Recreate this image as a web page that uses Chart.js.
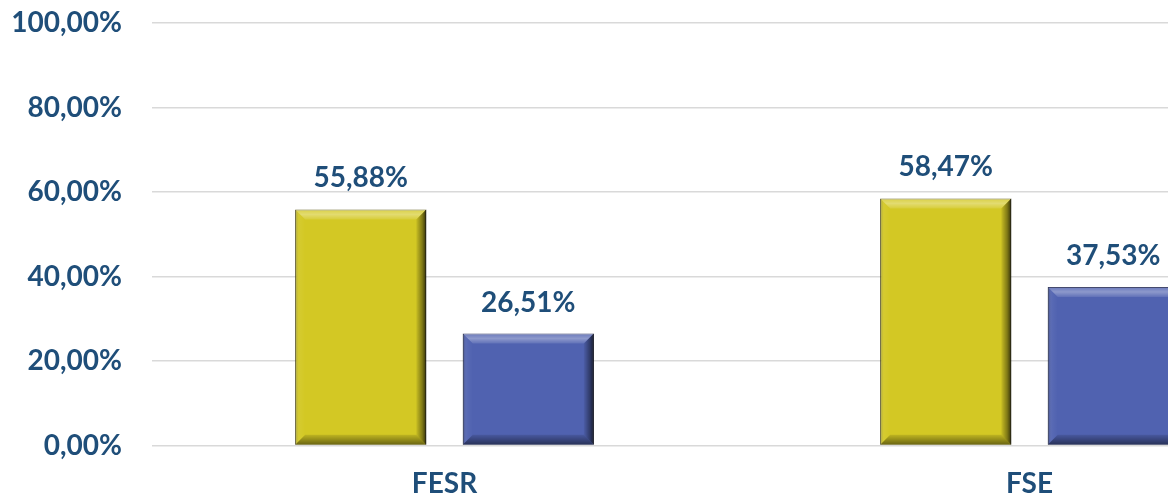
<!DOCTYPE html>
<html>
<head>
<meta charset="utf-8">
<script src="https://cdn.jsdelivr.net/npm/chart.js@4/dist/chart.umd.min.js"></script>
<style>
    html, body { margin: 0; padding: 0; background: #fff; overflow: hidden; }
    #wrap { position: relative; width: 1322px; height: 520px; margin-top: -21px; }
</style>
</head>
<body>
<div id="wrap"><canvas id="myChart"></canvas></div>
<script>
const categories = ['FESR', 'FSE'];
const seriesYellow = [55.88, 58.47];
const seriesBlue = [26.51, 37.53];
const yTicks = [0, 20, 40, 60, 80, 100];

const textColor = '#1f4e79';
const labelFont = { family: 'Lato', size: 28, weight: 'bold', lineHeight: 1 };

function formatPct(v) {
    return v.toFixed(2).replace('.', ',') + '%';
}

// draws the bevel look on each bar, like the office chart
const bevelPlugin = {
    id: 'bevel',
    afterDatasetsDraw(chart) {
        const ctx = chart.ctx;
        chart.data.datasets.forEach((ds, i) => {
            chart.getDatasetMeta(i).data.forEach(bar => {
                const l = bar.x - bar.width / 2;
                const r = bar.x + bar.width / 2;
                const t = bar.y;
                const b = bar.base;
                const s = 10;
                ctx.save();
                // top
                let g = ctx.createLinearGradient(0, t, 0, t + s);
                g.addColorStop(0, 'rgba(255,255,255,0.15)');
                g.addColorStop(0.5, 'rgba(255,255,255,0.35)');
                g.addColorStop(1, 'rgba(255,255,255,0.1)');
                ctx.fillStyle = g;
                ctx.beginPath();
                ctx.moveTo(l, t); ctx.lineTo(r, t); ctx.lineTo(r - s, t + s); ctx.lineTo(l + s, t + s);
                ctx.closePath(); ctx.fill();
                // left
                g = ctx.createLinearGradient(l, 0, l + s, 0);
                g.addColorStop(0, 'rgba(0,0,0,0.25)');
                g.addColorStop(0.4, 'rgba(255,255,255,0.05)');
                g.addColorStop(1, 'rgba(255,255,255,0)');
                ctx.fillStyle = g;
                ctx.beginPath();
                ctx.moveTo(l, t); ctx.lineTo(l + s, t + s); ctx.lineTo(l + s, b - s); ctx.lineTo(l, b);
                ctx.closePath(); ctx.fill();
                // right
                g = ctx.createLinearGradient(r - s, 0, r, 0);
                g.addColorStop(0, 'rgba(0,0,0,0.05)');
                g.addColorStop(0.6, 'rgba(0,0,0,0.4)');
                g.addColorStop(1, 'rgba(0,0,0,0.75)');
                ctx.fillStyle = g;
                ctx.beginPath();
                ctx.moveTo(r, t); ctx.lineTo(r, b); ctx.lineTo(r - s, b - s); ctx.lineTo(r - s, t + s);
                ctx.closePath(); ctx.fill();
                // bottom
                g = ctx.createLinearGradient(0, b - s, 0, b);
                g.addColorStop(0, 'rgba(0,0,0,0.1)');
                g.addColorStop(1, 'rgba(0,0,0,0.5)');
                ctx.fillStyle = g;
                ctx.beginPath();
                ctx.moveTo(l, b); ctx.lineTo(r, b); ctx.lineTo(r - s, b - s); ctx.lineTo(l + s, b - s);
                ctx.closePath(); ctx.fill();
                ctx.restore();
            });
        });
    }
};

// value labels above the bars
const valueLabelPlugin = {
    id: 'valueLabels',
    afterDatasetsDraw(chart) {
        const ctx = chart.ctx;
        ctx.save();
        ctx.font = 'bold 28px Lato';
        ctx.fillStyle = textColor;
        ctx.textAlign = 'center';
        ctx.textBaseline = 'middle';
        chart.data.datasets.forEach((ds, i) => {
            chart.getDatasetMeta(i).data.forEach((bar, j) => {
                ctx.fillText(formatPct(ds.data[j]), bar.x, bar.y - 31);
            });
        });
        ctx.restore();
    }
};

let ctx = document.getElementById('myChart').getContext('2d');
let myChart = new Chart(ctx, {
    type: 'bar',
    data: {
        labels: categories,
        datasets: [{
            label: 'Serie 1',
            data: seriesYellow,
            backgroundColor: '#d3c824',
            borderColor: '#5a5410',
            borderWidth: 1,
            categoryPercentage: 0.573,
            barPercentage: 0.782
        }, {
            label: 'Serie 2',
            data: seriesBlue,
            backgroundColor: '#5062b0',
            borderColor: '#1e2550',
            borderWidth: 1,
            categoryPercentage: 0.573,
            barPercentage: 0.782
        }]
    },
    options: {
        responsive: true,
        maintainAspectRatio: false,
        animation: false,
        layout: {
            padding: { left: 12, top: 0, right: 0, bottom: 0 }
        },
        plugins: {
            legend: { display: false },
            tooltip: { enabled: false }
        },
        scales: {
            x: {
                grid: { display: false },
                border: { display: false },
                afterFit(axis) {
                    axis.height = 53.5;
                },
                ticks: {
                    color: textColor,
                    font: labelFont,
                    padding: 16
                }
            },
            y: {
                min: 0,
                max: 100,
                afterBuildTicks(axis) {
                    axis.ticks = yTicks.map(v => ({ value: v }));
                },
                afterFit(axis) {
                    axis.width = 140;
                },
                grid: {
                    color: '#d9d9d9',
                    lineWidth: 1.5,
                    drawTicks: false
                },
                border: { display: false },
                ticks: {
                    color: textColor,
                    font: labelFont,
                    padding: 30,
                    callback: value => formatPct(value)
                }
            }
        }
    },
    plugins: [bevelPlugin, valueLabelPlugin]
});
</script>
</body>
</html>
